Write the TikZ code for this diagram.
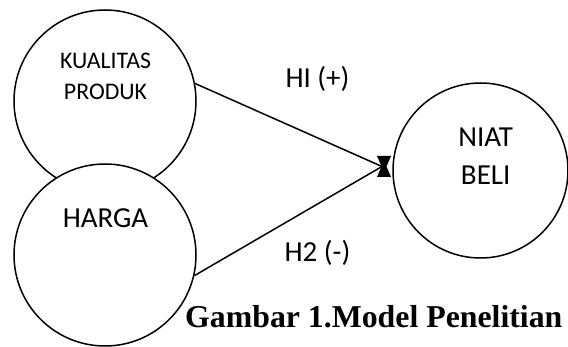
\documentclass[tikz,border=0pt]{standalone}
\usepackage{fontspec}
\setmainfont{Carlito}
\newfontfamily\capfont{Liberation Serif}
\begin{document}
\begin{tikzpicture}[x=1pt,y=-1pt,
  var/.style={circle,draw=black,line width=1.5pt,fill=white,inner sep=0pt},
  lbl/.style={anchor=base,inner sep=0pt,font=\fontsize{29}{35}\selectfont},
  lblsmall/.style={anchor=base,inner sep=0pt,font=\fontsize{23.8}{28}\selectfont},
  conn/.style={line width=1.5pt}]
\useasboundingbox (0,0) rectangle (568,347);
\node[var,minimum size=182pt] (kp) at (105,101) {};
\node[var,minimum size=182pt] (hg) at (105,255) {};
\node[var,minimum size=175pt] (nb) at (480.5,170.5) {};
\coordinate (tip) at (382,166.5);
\draw[conn] (kp.11) -- (tip);
\draw[conn] (hg.-13) -- (tip);
\fill[black] (377,156) -- (391,156) -- (386.5,166.5) -- (391,177) -- (377,177) -- (381.5,166.5) -- cycle;
\node[lblsmall] (kp1) at (105.5,68.3) {KUALITAS};
\node[lblsmall] (kp2) at (105.5,99.3) {PRODUK};
\node[lbl] (hg1) at (105.5,228) {HARGA};
\node[lbl] (nb1) at (485.7,147) {NIAT};
\node[lbl] (nb2) at (485.7,185) {BELI};
\node[lbl] (h1) at (317.5,88) {HI (+)};
\node[lbl] (h2) at (317.5,262) {H2 (-)};
\node[anchor=base west,inner sep=0pt,font=\capfont\bfseries\fontsize{31.8}{36}\selectfont] (cap) at (185,328) {Gambar 1.Model Penelitian};
\end{tikzpicture}
\end{document}
